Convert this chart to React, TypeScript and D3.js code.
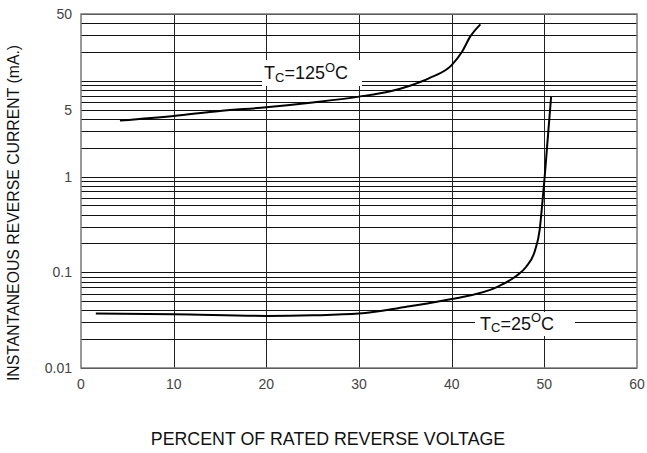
import * as d3 from 'd3'
import React, { useEffect, useRef } from 'react'

// percent of rated reverse voltage (x) vs instantaneous reverse current in mA (y)
const hotVoltage = [4.2, 10, 15, 20, 25, 30, 33.4, 35.5, 37.7, 40, 41.1, 42, 43.1]
const hotCurrent = [3.85, 4.3, 4.85, 5.3, 5.95, 6.85, 7.8, 8.9, 10.8, 14.6, 20, 29, 39]

const coldVoltage = [1.6, 10, 20, 25, 30, 35, 40, 45, 47, 48, 49, 49.5, 49.8, 50.0, 50.27, 50.73]
const coldCurrent = [0.037, 0.0365, 0.035, 0.0355, 0.037, 0.0435, 0.0525, 0.071, 0.092, 0.113, 0.17, 0.28, 0.55, 0.9, 1.9, 6.8]

const xTicks = [0, 10, 20, 30, 40, 50, 60]
const yTickLabels = [50, 5, 1, 0.1, 0.01]
const decades = [0.01, 0.1, 1, 10]
const mantissas = [1, 2, 3, 4, 5, 6, 7, 8, 9]

const W = 647
const H = 453
const margin = { top: 14, right: 10, bottom: 85, left: 81 }

export default function App() {
  const svgRef = useRef<SVGSVGElement | null>(null)

  useEffect(() => {
    const svg = d3.select(svgRef.current)
    svg.selectAll('*').remove()

    const x = d3.scaleLinear().domain([0, 60]).range([margin.left, W - margin.right])
    const y = d3.scaleLog().domain([0.01, 50]).range([H - margin.bottom, margin.top])

    const gridY = decades
      .flatMap((d) => mantissas.map((m) => +(d * m).toPrecision(3)))
      .filter((v) => v <= 50)
      .concat([50])

    const grid = svg.append('g')
    grid
      .selectAll('line.h')
      .data(gridY)
      .enter()
      .append('line')
      .attr('x1', x(0))
      .attr('x2', x(60))
      .attr('y1', (d) => Math.round(y(d)) + 0.5)
      .attr('y2', (d) => Math.round(y(d)) + 0.5)
      .attr('stroke', '#111')
      .attr('stroke-width', 1)

    grid
      .selectAll('line.v')
      .data(xTicks.slice(1, -1))
      .enter()
      .append('line')
      .attr('x1', (d) => Math.round(x(d)) + 0.5)
      .attr('x2', (d) => Math.round(x(d)) + 0.5)
      .attr('y1', y(50))
      .attr('y2', y(0.01))
      .attr('stroke', '#222')
      .attr('stroke-width', 1)

    // frame
    svg
      .append('rect')
      .attr('x', x(0))
      .attr('y', y(50))
      .attr('width', x(60) - x(0))
      .attr('height', y(0.01) - y(50))
      .attr('fill', 'none')
      .attr('stroke', '#777')
      .attr('stroke-width', 1.5)

    const line = d3
      .line<[number, number]>()
      .x((d) => x(d[0]))
      .y((d) => y(d[1]))
      .curve(d3.curveMonotoneX)

    const curves = [
      d3.zip(hotVoltage, hotCurrent) as [number, number][],
      d3.zip(coldVoltage, coldCurrent) as [number, number][],
    ]

    svg
      .selectAll('path.curve')
      .data(curves)
      .enter()
      .append('path')
      .attr('d', (d) => line(d))
      .attr('fill', 'none')
      .attr('stroke', '#000')
      .attr('stroke-width', 2)

    // labels with white boxes
    const labels = [
      { temp: '125', box: [262, 60, 100, 26], tx: 264, ty: 79 },
      { temp: '25', box: [475, 312, 100, 24], tx: 480, ty: 329.5 },
    ]
    labels.forEach((l) => {
      svg
        .append('rect')
        .attr('x', l.box[0])
        .attr('y', l.box[1])
        .attr('width', l.box[2])
        .attr('height', l.box[3])
        .attr('fill', '#fff')
      const t = svg
        .append('text')
        .attr('x', l.tx)
        .attr('y', l.ty)
        .attr('font-family', 'Liberation Sans, Arial, sans-serif')
        .attr('font-size', 18)
        .attr('fill', '#111')
      t.append('tspan').text('T')
      t.append('tspan').attr('font-size', 13).attr('dy', 2.5).text('C')
      t.append('tspan').attr('dy', -2.5).text('=' + l.temp)
      t.append('tspan').attr('font-size', 13).attr('dy', -7.5).text('O')
      t.append('tspan').attr('dy', 7.5).text('C')
    })

    // tick labels
    svg
      .selectAll('text.xt')
      .data(xTicks)
      .enter()
      .append('text')
      .attr('x', (d) => x(d))
      .attr('y', y(0.01) + 20.5)
      .attr('text-anchor', 'middle')
      .attr('font-family', 'Liberation Sans, Arial, sans-serif')
      .attr('font-size', 14)
      .attr('fill', '#444')
      .text((d) => d)

    svg
      .selectAll('text.yt')
      .data(yTickLabels)
      .enter()
      .append('text')
      .attr('x', x(0) - 9)
      .attr('y', (d) => y(d) + 5)
      .attr('text-anchor', 'end')
      .attr('font-family', 'Liberation Sans, Arial, sans-serif')
      .attr('font-size', 14)
      .attr('fill', '#444')
      .text((d) => d)

    svg
      .append('text')
      .attr('transform', `translate(18.5,${(y(50) + y(0.01)) / 2 + 22}) rotate(-90)`)
      .attr('text-anchor', 'middle')
      .attr('font-family', 'Liberation Sans, Arial, sans-serif')
      .attr('font-size', 15.8)
      .attr('fill', '#111')
      .text('INSTANTANEOUS REVERSE CURRENT (mA.)')

    svg
      .append('text')
      .attr('x', 328)
      .attr('y', 445)
      .attr('text-anchor', 'middle')
      .attr('font-family', 'Liberation Sans, Arial, sans-serif')
      .attr('font-size', 17.8)
      .attr('fill', '#111')
      .text('PERCENT OF RATED REVERSE VOLTAGE')
  }, [])

  return (
    <svg
      ref={svgRef}
      width={W}
      height={H}
      style={{ position: 'absolute', left: 0, top: 0, background: '#fff' }}
    ></svg>
  )
}
